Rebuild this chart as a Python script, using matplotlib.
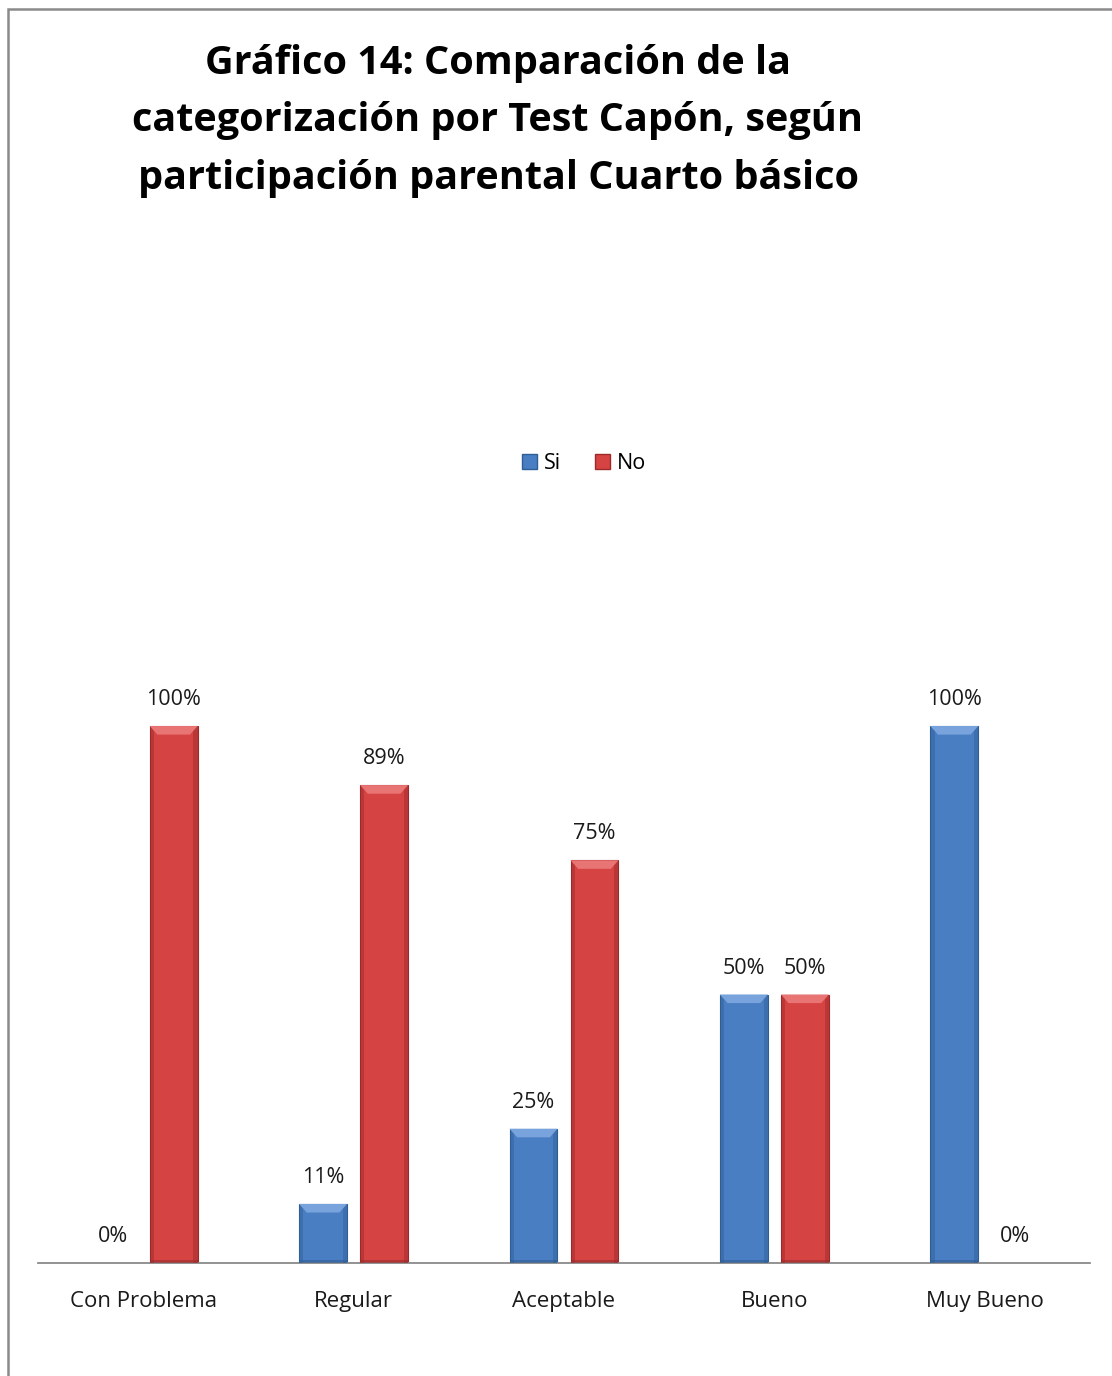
import matplotlib
matplotlib.use("Agg")
import matplotlib.pyplot as plt
import matplotlib.patches as patches
import numpy as np

categories = ["Con Problema", "Regular", "Aceptable", "Bueno", "Muy Bueno"]
si_values = [0.00, 0.11, 0.25, 0.50, 1.00]
no_values = [1.00, 0.89, 0.75, 0.50, 0.00]
series_names = ["Si", "No"]

title = ("Gráfico 14: Comparación de la\n"
         "categorización por Test Capón, según\n"
         "participación parental Cuarto básico")

W, H = 1112, 1376
fig = plt.figure(figsize=(W / 100, H / 100), dpi=100)
fig.patch.set_facecolor("white")

# outer chart frame (runs off the right and bottom edges)
fig.add_artist(patches.Rectangle((8 / W, -0.02), 1.1, 1 - 9 / H + 0.02,
                                 transform=fig.transFigure, fill=False,
                                 edgecolor="#8a8a8a", linewidth=1.8))

font = ["Open Sans", "DejaVu Sans"]

fig.text(498 / W, 1 - 121 / H, title, ha="center", va="center",
         fontsize=28.5, fontweight="bold", family=font, linespacing=1.61,
         multialignment="center")

ax = fig.add_axes([38 / W, 1 - 1263 / H, 1052 / W, 0.4683])
ax.set_xlim(-0.5, 4.5)
ax.set_ylim(0, 1.2)

x = np.arange(len(categories))
width = 0.228
offset = 0.145

colors = {"Si": ("#4a7ec2", "#2f5d96", "#78a3dc"),
          "No": ("#d64343", "#9c2a2a", "#e87474")}


def bevel(bar, base, dark, light):
    x0, w, h = bar.get_x(), bar.get_width(), bar.get_height()
    if h <= 0:
        return
    # side shading
    sw = w * 0.09
    for xs in (x0, x0 + w - sw):
        ax.add_patch(patches.Rectangle((xs, 0), sw, h, facecolor=dark,
                                       edgecolor="none", alpha=0.45, zorder=3))
    # top bevel
    bh = min(0.016, h * 0.4)
    ins = w * 0.16
    ax.add_patch(patches.Polygon([(x0, h), (x0 + w, h), (x0 + w - ins, h - bh),
                                  (x0 + ins, h - bh)], closed=True,
                                 facecolor=light, edgecolor="none", zorder=4))
    # bottom shade
    ax.add_patch(patches.Rectangle((x0, 0), w, min(0.006, h * 0.2),
                                   facecolor=dark, edgecolor="none",
                                   alpha=0.6, zorder=3))


for name, vals, dx in (("Si", si_values, -offset), ("No", no_values, offset)):
    base, dark, light = colors[name]
    bars = ax.bar(x + dx, vals, width, color=base, edgecolor=dark,
                  linewidth=0.8, zorder=2, label=name)
    for b, v in zip(bars, vals):
        bevel(b, base, dark, light)
        ax.annotate(f"{v:.0%}", (b.get_x() + b.get_width() / 2, v),
                    xytext=(0, 19), textcoords="offset points",
                    ha="center", va="center", fontsize=15.5, family=font,
                    color="#1a1a1a", annotation_clip=False)

for s in ("top", "right", "left"):
    ax.spines[s].set_visible(False)
ax.spines["bottom"].set_color("#8a8a8a")
ax.spines["bottom"].set_linewidth(1.3)
ax.set_yticks([])
ax.set_xticks(x)
ax.set_xticklabels(categories, fontsize=16, family=font, color="#1a1a1a")
ax.tick_params(axis="x", length=0, pad=20)
ax.patch.set_alpha(0)

# legend with square bevelled keys
handles = [patches.Patch(facecolor=colors[n][0], edgecolor=colors[n][1])
           for n in series_names]
fig.legend(handles, series_names, loc="center", bbox_to_anchor=(584 / W, 1 - 464 / H),
           ncol=2, frameon=False, prop={"family": font, "size": 15.5},
           handlelength=0.7, handleheight=0.7, handletextpad=0.3,
           columnspacing=1.6)

fig.savefig("out.png", dpi=100, facecolor="white")
